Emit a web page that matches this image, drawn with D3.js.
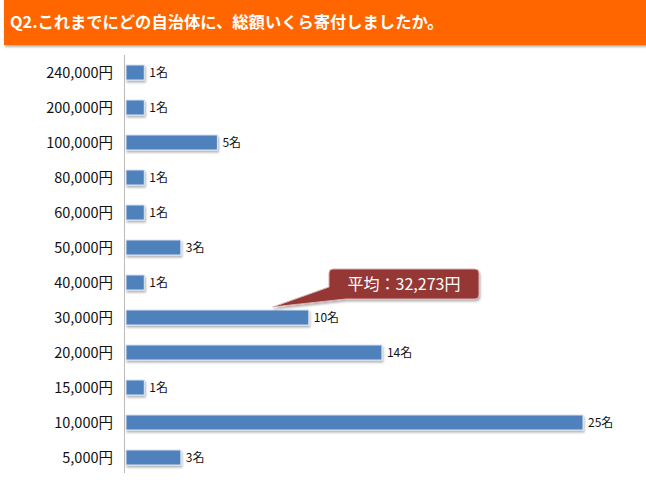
<!DOCTYPE html>
<html><head><meta charset="utf-8">
<script src="https://cdn.jsdelivr.net/npm/d3@7"></script>
<style>body{margin:0;background:#fff;}svg{display:block;}</style>
</head><body>
<script>
const categories = ["240,000円","200,000円","100,000円","80,000円","60,000円","50,000円","40,000円","30,000円","20,000円","15,000円","10,000円","5,000円"];
const counts = [1,1,5,1,1,3,1,10,14,1,25,3];
const valueLabels = counts.map(d => d + "名");
const titleText = "Q2.これまでにどの自治体に、総額いくら寄付しましたか。";
const calloutText = "平均：32,273円";
const calloutCategory = "30,000円";

const W = 646, H = 485;
const svg = d3.select("body").append("svg").attr("width", W).attr("height", H);
const defs = svg.append("defs");
const f = defs.append("filter").attr("id","sh").attr("x","-10%").attr("y","-20%").attr("width","130%").attr("height","160%");
f.append("feDropShadow").attr("dx",1).attr("dy",2).attr("stdDeviation",1).attr("flood-color","#000").attr("flood-opacity",0.3);

// header
svg.append("rect").attr("x",4).attr("y",0).attr("width",W-4).attr("height",45).attr("fill","#FF6600").attr("filter","url(#sh)");
svg.append("text").attr("x",10).attr("y",28).attr("fill","#fff")
  .attr("font-family","'Noto Sans CJK JP', sans-serif").attr("font-size",16.3).attr("font-weight","bold")
  .text(titleText);

const x = d3.scaleLinear().domain([0,25]).range([125,582]);
const y = d3.scaleBand().domain(categories).range([55,475]).paddingInner(0.57).paddingOuter(0.285);

// axis
svg.append("line").attr("x1",124.5).attr("x2",124.5).attr("y1",55).attr("y2",473).attr("stroke","#bbb").attr("stroke-width",1);

svg.append("g").selectAll("text").data(categories).join("text")
  .attr("x",113).attr("y",d=>y(d)+y.bandwidth()/2).attr("dy","0.35em")
  .attr("text-anchor","end").attr("font-family","'Noto Sans CJK JP', sans-serif").attr("font-size",14.5).attr("fill","#111")
  .text(d=>d);

svg.append("g").selectAll("rect").data(categories).join("rect")
  .attr("x",x(0)+1).attr("y",d=>y(d)).attr("width",(d,i)=>x(counts[i])-x(0)).attr("height",y.bandwidth())
  .attr("fill","#4F81BD").attr("stroke","#dbe6f3").attr("stroke-width",1).attr("filter","url(#sh)");

svg.append("g").selectAll("text").data(categories).join("text")
  .attr("x",(d,i)=>x(counts[i])+6).attr("y",d=>y(d)+y.bandwidth()/2).attr("dy","0.35em")
  .attr("font-family","'Noto Sans CJK JP', sans-serif").attr("font-size",12).attr("fill","#111")
  .text((d,i)=>valueLabels[i]);

// callout
const ci = categories.indexOf(calloutCategory);
const tipX = x(counts[ci]) - 35, tipY = y(calloutCategory) - 3;
const rx0 = 329, ry0 = 269, rw = 150, rh = 30, r = 4;
const p = d3.path();
p.moveTo(rx0+r, ry0);
p.lineTo(rx0+rw-r, ry0); p.arcTo(rx0+rw, ry0, rx0+rw, ry0+r, r);
p.lineTo(rx0+rw, ry0+rh-r); p.arcTo(rx0+rw, ry0+rh, rx0+rw-r, ry0+rh, r);
p.lineTo(rx0+17, ry0+rh);
p.lineTo(tipX, tipY);
p.lineTo(rx0, ry0+18);
p.lineTo(rx0, ry0+r); p.arcTo(rx0, ry0, rx0+r, ry0, r);
p.closePath();
svg.append("path").attr("d",p.toString()).attr("fill","#953735").attr("stroke","#d9b3b2").attr("stroke-width",1).attr("filter","url(#sh)");
svg.append("text").attr("x",rx0+rw/2).attr("y",ry0+rh/2).attr("dy","0.36em").attr("text-anchor","middle")
  .attr("fill","#fff").attr("font-family","'Noto Sans CJK JP', sans-serif").attr("font-size",16).text(calloutText);
</script>
</body></html>
